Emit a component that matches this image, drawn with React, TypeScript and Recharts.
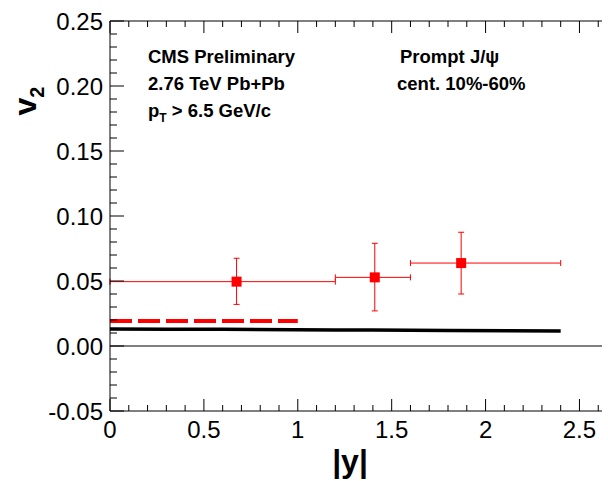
import React from 'react';
import {
  ComposedChart,
  XAxis,
  YAxis,
  Scatter,
  Line,
  ErrorBar,
  ReferenceLine,
  Customized
} from 'recharts';

// measured points (prompt J/psi v2 vs |y|)
const rapidity = [0.674, 1.41, 1.87];
const v2 = [0.0495, 0.0528, 0.0638];
const xErrLow = [0.674, 0.21, 0.27];
const xErrHigh = [0.526, 0.19, 0.53];
const yErrLow = [0.0175, 0.0258, 0.0238];
const yErrHigh = [0.018, 0.0262, 0.0237];

// red dashed reference
const dashedY = [0, 1.0];
const dashedV2 = [0.0192, 0.0192];

// black model curve
const modelY = [0, 0.6, 1.2, 1.8, 2.4];
const modelV2 = [0.0131, 0.0128, 0.0124, 0.012, 0.0115];

const xTickLabels = ['0', '0.5', '1', '1.5', '2', '2.5'];
const yTickLabels = ['-0.05', '0.00', '0.05', '0.10', '0.15', '0.20', '0.25'];

const FONT = '"Liberation Sans", Arial, Helvetica, sans-serif';

const Y_MIN = -0.05;
const Y_MAX = 0.25;
const X_MAX = 2.62;
const CHART_W = 608;
const CHART_H = 481;
const MARGIN_TOP = 21;
const MARGIN_RIGHT = 6;
const Y_AXIS_W = 110;
const X_AXIS_H = 70;
const PLOT_W = CHART_W - Y_AXIS_W - MARGIN_RIGHT;

// minor ticks every 0.1 in |y| and 0.01 in v2
const xTicks = Array.from({ length: 27 }, (_, i) => i / 10);
const yTicks = Array.from({ length: 31 }, (_, i) => Math.round((Y_MIN + i * 0.01) * 1000) / 1000);

const isMajor = (v: number, step: number) => Math.abs(v / step - Math.round(v / step)) < 1e-6;
const labelFor = (v: number, labels: string[]) => labels.find(l => Math.abs(parseFloat(l) - v) < 1e-6);

const points = rapidity.map((x, i) => ({
  x,
  y: v2[i],
  ex: [xErrLow[i], xErrHigh[i]],
  ey: [yErrLow[i], yErrHigh[i]]
}));
const dashedData = dashedY.map((x, i) => ({ x, v: dashedV2[i] }));
const modelData = modelY.map((x, i) => ({ x, v: modelV2[i] }));

const LeftTick = (props: any) => {
  const { x, y, payload } = props;
  const major = isMajor(payload.value, 0.05);
  const lab = major ? labelFor(payload.value, yTickLabels) : undefined;
  return (
    <g>
      <line x1={x} y1={y} x2={x + (major ? 14 : 7)} y2={y} stroke="#000" strokeWidth={1} />
      {lab && (
        <text x={x - 7} y={y} dy="0.36em" textAnchor="end" fontSize={24} fontFamily={FONT} fill="#000">
          {lab}
        </text>
      )}
    </g>
  );
};

const RightTick = (props: any) => {
  const { x, y, payload } = props;
  const major = isMajor(payload.value, 0.05);
  return <line x1={x} y1={y} x2={x - (major ? 14 : 7)} y2={y} stroke="#000" strokeWidth={1} />;
};

const BottomTick = (props: any) => {
  const { x, y, payload } = props;
  const major = isMajor(payload.value, 0.5);
  const lab = major ? labelFor(payload.value, xTickLabels) : undefined;
  return (
    <g>
      <line x1={x} y1={y} x2={x} y2={y - (major ? 12 : 6)} stroke="#000" strokeWidth={1} />
      {lab && (
        <text x={x} y={y + 27} textAnchor="middle" fontSize={24} fontFamily={FONT} fill="#000">
          {lab}
        </text>
      )}
    </g>
  );
};

// mirrored ticks on the top frame (same linear mapping as the x axis)
const TopTicks = () => (
  <g stroke="#000" strokeWidth={1}>
    {xTicks.map(v => {
      const px = Y_AXIS_W + (v / X_MAX) * PLOT_W;
      return (
        <line
          key={`t-${v}`}
          x1={px}
          y1={MARGIN_TOP}
          x2={px}
          y2={MARGIN_TOP + (isMajor(v, 0.5) ? 12 : 6)}
        />
      );
    })}
  </g>
);

const Square = (props: any) => (
  <rect x={props.cx - 5} y={props.cy - 5} width={10} height={10} fill="#ff0000" />
);

const Annotations = () => (
  <g fontFamily={FONT} fill="#000">
    <text x={148} y={63} fontSize={18.5} fontWeight="bold">CMS Preliminary</text>
    <text x={148} y={90} fontSize={18.5} fontWeight="bold">2.76 TeV Pb+Pb</text>
    <text x={148} y={117} fontSize={18.5} fontWeight="bold">
      p<tspan fontSize={12} dy={5}>T</tspan>
      <tspan dy={-5}> &gt; 6.5 GeV/c</tspan>
    </text>
    <text x={400} y={63} fontSize={18.5} fontWeight="bold">Prompt J/ψ</text>
    <text x={397} y={90} fontSize={18.5} fontWeight="bold">cent. 10%-60%</text>
    <text x={350} y={472} fontSize={32} fontWeight="bold" textAnchor="middle">|y|</text>
    <text transform="translate(36,101) rotate(-90)" fontSize={32} fontWeight="bold" textAnchor="middle">
      v<tspan fontSize={20} dy={8}>2</tspan>
    </text>
  </g>
);

export default function App() {
  return (
    <div style={{ position: 'absolute', left: 0, top: 0, width: CHART_W, height: CHART_H, background: '#fff' }}>
      <ComposedChart
        width={CHART_W}
        height={CHART_H}
        margin={{ top: MARGIN_TOP, right: MARGIN_RIGHT, bottom: 0, left: 0 }}
      >
        <XAxis
          dataKey="x"
          type="number"
          domain={[0, X_MAX]}
          allowDataOverflow
          ticks={xTicks}
          interval={0}
          tick={<BottomTick />}
          tickSize={0}
          tickMargin={0}
          height={X_AXIS_H}
          axisLine={{ stroke: '#000' }}
        />
        <YAxis
          yAxisId="l"
          type="number"
          domain={[Y_MIN, Y_MAX]}
          allowDataOverflow
          ticks={yTicks}
          interval={0}
          tick={<LeftTick />}
          tickSize={0}
          tickMargin={0}
          width={Y_AXIS_W}
          axisLine={{ stroke: '#000' }}
        />
        <YAxis
          yAxisId="r"
          type="number"
          orientation="right"
          domain={[Y_MIN, Y_MAX]}
          allowDataOverflow
          ticks={yTicks}
          interval={0}
          tick={<RightTick />}
          tickSize={0}
          tickMargin={0}
          width={0}
          axisLine={{ stroke: '#000' }}
        />
        {/* top frame */}
        <ReferenceLine yAxisId="l" y={Y_MAX} stroke="#000" strokeWidth={1} />
        <ReferenceLine yAxisId="l" y={0} stroke="#000" strokeWidth={1} />
        <Line
          yAxisId="l"
          data={modelData}
          dataKey="v"
          type="monotone"
          stroke="#000"
          strokeWidth={3.5}
          dot={false}
          isAnimationActive={false}
        />
        <Line
          yAxisId="l"
          data={dashedData}
          dataKey="v"
          type="linear"
          stroke="#ff0000"
          strokeWidth={4}
          strokeDasharray="22 6"
          dot={false}
          isAnimationActive={false}
        />
        <Scatter
          yAxisId="l"
          data={points}
          dataKey="y"
          shape={<Square />}
          isAnimationActive={false}
        >
          <ErrorBar dataKey="ex" direction="x" stroke="#ff0000" strokeWidth={1} width={3} isAnimationActive={false} />
          <ErrorBar dataKey="ey" direction="y" stroke="#ff0000" strokeWidth={1} width={3} isAnimationActive={false} />
        </Scatter>
        <Customized component={TopTicks} />
        <Customized component={Annotations} />
      </ComposedChart>
    </div>
  );
}
